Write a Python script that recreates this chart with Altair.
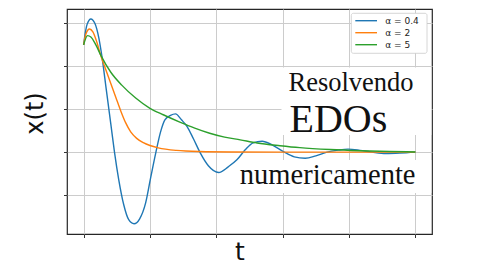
import altair as alt
import pandas as pd

# ---- data ----
t_a04 = [0, 0.07, 0.108, 0.219, 0.339, 0.459, 0.55, 0.685, 0.82, 0.931, 1.06, 1.21, 1.36, 1.52,
         1.69, 1.87, 2.02, 2.18, 2.32, 2.45, 2.62, 2.77, 2.95, 3.12, 3.31, 3.52, 3.76, 4.07,
         4.36, 4.62, 4.87, 5.11, 5.38, 5.68, 6.02, 6.35, 6.68, 7.0, 7.34, 7.67, 7.97, 8.33,
         8.69, 9.11, 9.53, 10.0]
x_a04 = [1.248, 1.43, 1.49, 1.55, 1.50, 1.33, 1.12, 0.724, 0.329, 0.0, -0.322, -0.613, -0.787, -0.834,
         -0.776, -0.59, -0.30, 0.0, 0.236, 0.376, 0.428, 0.445, 0.376, 0.298, 0.155, -0.012, -0.159, -0.237,
         -0.171, -0.09, 0.027, 0.108, 0.126, 0.085, 0.007, -0.055, -0.072, -0.043, 0.0, 0.023, 0.035, 0.021,
         0.0, -0.017, -0.012, 0.0]

t_a2 = [0, 0.07, 0.18, 0.28, 0.40, 0.52, 0.67, 0.82, 0.97, 1.12, 1.27, 1.42, 1.6, 1.8, 2.0,
        2.25, 2.8, 3.5, 4.5, 6.0, 10.0]
x_a2 = [1.248, 1.376, 1.434, 1.40, 1.28, 1.12, 0.96, 0.80, 0.64, 0.48, 0.34, 0.235, 0.16, 0.11, 0.077,
        0.05, 0.02, 0.007, 0.002, 0.0, 0.0]

t_a5 = [0, 0.12, 0.22, 0.37, 0.52, 0.82, 1.15, 1.57, 2.0, 2.4, 2.9, 3.35, 3.8, 4.25, 4.72, 5.23,
        5.92, 6.52, 7.43, 8.33, 9.23, 10.0]
x_a5 = [1.248, 1.356, 1.34, 1.248, 1.126, 0.93, 0.78, 0.63, 0.51, 0.435, 0.35, 0.28, 0.22, 0.175,
        0.143, 0.107, 0.075, 0.052, 0.03, 0.016, 0.007, 0.002]

labels = ["α = 0.4", "α = 2", "α = 5"]
colors = ["#1f77b4", "#ff7f0e", "#2ca02c"]
x_ticks = [0, 2, 4, 6, 8, 10]
y_ticks = [-0.5, 0.0, 0.5, 1.0, 1.5]

rows = []
for lab, ts, xs in zip(labels, [t_a04, t_a2, t_a5], [x_a04, x_a2, x_a5]):
    for i, (t, x) in enumerate(zip(ts, xs)):
        rows.append({"series": lab, "t": t, "x": x, "order": i})
df = pd.DataFrame(rows)
leg = pd.DataFrame({"label": labels, "color": colors, "row": list(range(len(labels)))})

W, H = 365, 225

lines = alt.Chart(df).mark_line(strokeWidth=1.4, interpolate="monotone").encode(
    x=alt.X("t:Q", scale=alt.Scale(domain=[-0.5, 10.5], nice=False, zero=False),
            axis=alt.Axis(values=x_ticks, labels=False, title=None, tickSize=3.5,
                          tickColor="#333333", grid=True, gridColor="#cccccc", gridWidth=1,
                          domain=False)),
    y=alt.Y("x:Q", scale=alt.Scale(domain=[-0.953, 1.666], nice=False, zero=False),
            axis=alt.Axis(values=y_ticks, labels=False, title=None, tickSize=3.5,
                          tickColor="#333333", grid=True, gridColor="#cccccc", gridWidth=1,
                          domain=False)),
    color=alt.Color("series:N", scale=alt.Scale(domain=labels, range=colors), legend=None),
    order="order:Q",
    detail="series:N",
)

one = pd.DataFrame({"k": [0]})

box1 = alt.Chart(one).mark_rect(fill="white").encode(
    x=alt.value(214.5), x2=alt.value(364.3), y=alt.value(58.5), y2=alt.value(126))
box2 = alt.Chart(one).mark_rect(fill="white").encode(
    x=alt.value(171.5), x2=alt.value(364.3), y=alt.value(151), y2=alt.value(184))


def label(txt, x, y, size, align="left", font="Liberation Serif", angle=0, baseline="alphabetic"):
    return alt.Chart(one).mark_text(text=txt, font=font, fontSize=size, align=align,
                                    baseline=baseline, angle=angle, color="#111111").encode(
        x=alt.value(x), y=alt.value(y))


t1 = label("Resolvendo", 221.5, 82, 26.5)
t2 = label("EDOs", 222.5, 123, 40)
t3 = label("numericamente", 348.5, 175.3, 28.5, align="right")
ylab = label("x(t)", -31.5, 104.5, 24, align="center", font="DejaVu Sans", angle=270, baseline="middle")
xlab = label("t", 173, 251, 25, align="center", font="DejaVu Sans")

legbox = alt.Chart(one).mark_rect(fill="white", stroke="#cccccc", strokeWidth=0.8,
                                  cornerRadius=2).encode(
    x=alt.value(284.3), x2=alt.value(360), y=alt.value(4.3), y2=alt.value(44.3))
rowscale = alt.Scale(domain=[0, 2], range=[11.7, 35.7])
legrule = alt.Chart(leg).mark_rule(strokeWidth=1.4).encode(
    x=alt.value(288.3), x2=alt.value(310),
    y=alt.Y("row:Q", scale=rowscale, axis=None),
    color=alt.Color("color:N", scale=None),
)
legtext = alt.Chart(leg).mark_text(align="left", baseline="middle", font="DejaVu Sans",
                                   fontSize=9, color="#222222").encode(
    x=alt.value(318.3),
    y=alt.Y("row:Q", scale=rowscale, axis=None),
    text="label:N",
)

chart = alt.layer(lines, box1, box2, t1, t2, t3, ylab, xlab, legbox, legrule, legtext).resolve_scale(
    y="independent", color="independent"
).properties(
    width=W, height=H,
    autosize=alt.AutoSizeParams(type="none"),
    padding={"left": 67, "top": 9, "right": 48, "bottom": 36},
    background="white",
).configure_view(stroke="#262626", strokeWidth=1.2)

chart.save("out.html", embed_options={"renderer": "svg", "actions": False})
